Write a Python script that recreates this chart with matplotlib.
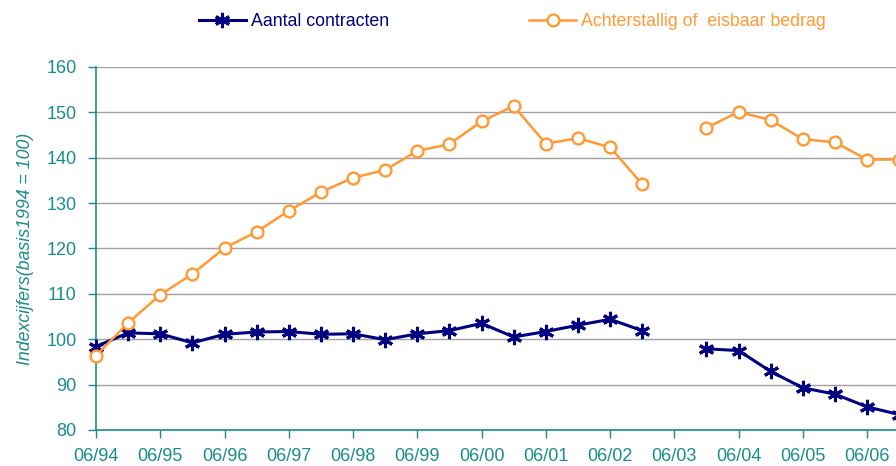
import numpy as np
import matplotlib
matplotlib.use("Agg")
import matplotlib.pyplot as plt

# === DATA ===
periods = ["06/94", "12/94", "06/95", "12/95", "06/96", "12/96", "06/97", "12/97",
           "06/98", "12/98", "06/99", "12/99", "06/00", "12/00", "06/01", "12/01",
           "06/02", "12/02", "06/03", "12/03", "06/04", "12/04", "06/05", "12/05",
           "06/06", "12/06"]
tick_labels = periods[::2]

aantal = [98.4, 101.4, 101.2, 99.2, 101.1, 101.6, 101.7, 101.1,
          101.2, 99.9, 101.2, 101.9, 103.5, 100.5, 101.7, 103.1,
          104.4, 101.9, np.nan, 97.9, 97.5, 92.9, 89.3, 87.9,
          85.1, 83.4]
achterstallig = [96.4, 103.6, 109.8, 114.4, 120.1, 123.7, 128.3, 132.4,
                 135.6, 137.3, 141.5, 143.0, 148.0, 151.4, 143.1, 144.3,
                 142.3, 134.2, np.nan, 146.6, 150.1, 148.3, 144.1, 143.4,
                 139.6, 139.6]

# === STYLE ===
navy = "#000080"
orange = "#FF9933"
teal = "#1A8C8C"
plt.rcParams["font.family"] = ["Liberation Sans", "DejaVu Sans"]

fig = plt.figure(figsize=(8.96, 4.66), dpi=100)
ax = fig.add_axes([96 / 896, 1 - 430 / 466, 1 - 96 / 896, (430 - 67) / 466])

x = np.arange(len(periods))
ax.plot(x, aantal, color=navy, lw=2.2, marker=(6, 2, 0), ms=11, mew=2.2,
        label="Aantal contracten", clip_on=False, zorder=3)
ax.plot(x, achterstallig, color=orange, lw=1.8, marker="o", ms=8.5, mew=1.7,
        mfc="white", label="Achterstallig of  eisbaar bedrag", clip_on=False, zorder=3)

ax.set_xlim(0, 24.9)
ax.set_ylim(80, 160)
ax.set_yticks(range(80, 161, 10))
ax.set_xticks(x[::2])
ax.set_xticklabels(tick_labels)
ax.yaxis.grid(True, color="#A0A0A0", lw=1)
ax.set_axisbelow(True)

for s in ["top", "right"]:
    ax.spines[s].set_visible(False)
for s in ["left", "bottom"]:
    ax.spines[s].set_color(teal)
    ax.spines[s].set_linewidth(1.2)
ax.tick_params(colors=teal, labelsize=13, length=6, width=1)
ax.tick_params(axis="x", pad=7)
ax.tick_params(axis="y", pad=8)

ax.set_ylabel("Indexcijfers(basis1994 = 100)", color=teal, fontsize=12.8,
              style="italic", labelpad=9)

fig.legend(loc="center", bbox_to_anchor=(0.572, 0.953), ncol=2, frameon=False,
           fontsize=12.8, handlelength=2.6, handletextpad=0.3, columnspacing=7.9,
           labelcolor="linecolor")

fig.savefig("out.png", dpi=100)
